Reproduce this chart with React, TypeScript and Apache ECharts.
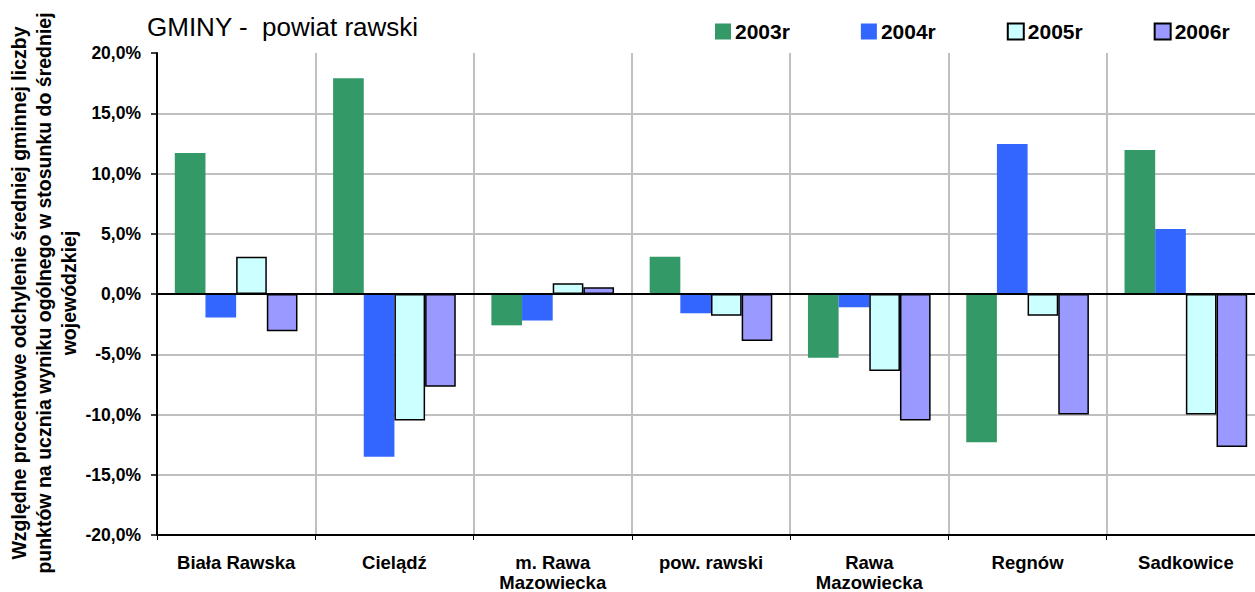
import React, { useEffect, useRef } from "react";
import * as echarts from "echarts";

const categories = [
  "Biała Rawska",
  "Cielądź",
  "m. Rawa\nMazowiecka",
  "pow. rawski",
  "Rawa\nMazowiecka",
  "Regnów",
  "Sadkowice",
];
const seriesNames = ["2003r", "2004r", "2005r", "2006r"];
const values2003 = [11.7, 17.9, -2.6, 3.1, -5.3, -12.3, 11.95];
const values2004 = [-1.95, -13.5, -2.2, -1.6, -1.1, 12.45, 5.4];
const values2005 = [3.1, -10.5, 0.9, -1.8, -6.4, -1.8, -10.0];
const values2006 = [-3.1, -7.7, 0.55, -3.9, -10.5, -10.0, -12.7];
const yTicks = { min: -20, max: 20, interval: 5 };
const yTitle =
  "Względne procentowe odchylenie średniej gminnej liczby\npunktów na ucznia wyniku ogólnego w stosunku do średniej\nwojewódzkiej";

const FONT = "'Liberation Sans', Arial, sans-serif";

export default function App() {
  const ref = useRef<HTMLDivElement>(null);
  useEffect(() => {
    if (!ref.current) return;
    const chart = echarts.init(ref.current, undefined, { renderer: "svg" });
    const colors = ["#339966", "#3366FF", "#CCFFFF", "#9999FF"];
    const data = [values2003, values2004, values2005, values2006];
    const bordered = [false, false, true, true];
    const series: any[] = data.map((vals, i) => ({
      name: seriesNames[i],
      type: "bar",
      data: vals,
      barGap: "0%",
      barCategoryGap: "22.5%",
      itemStyle: {
        color: colors[i],
        borderColor: bordered[i] ? "#000" : colors[i],
        borderWidth: bordered[i] ? 1.5 : 0,
      },
    }));
    series[0].markLine = {
      silent: true,
      symbol: "none",
      label: { show: false },
      lineStyle: { color: "#000", width: 2, type: "solid" },
      data: [{ yAxis: 0 }],
      z: 10,
    };
    const splitColors: string[] = [];
    for (let v = yTicks.min; v <= yTicks.max; v += yTicks.interval) {
      splitColors.push(v === yTicks.min || v === 0 || v === yTicks.max ? "rgba(0,0,0,0)" : "#c0c0c0");
    }
    chart.setOption({
      animation: false,
      textStyle: { fontFamily: FONT },
      title: {
        text: "GMINY -  powiat rawski",
        left: 147,
        top: 14,
        padding: 0,
        textStyle: { fontFamily: FONT, fontSize: 26, fontWeight: "normal", color: "#000" },
      },
      legend: {
        left: 715,
        top: 21,
        padding: 0,
        itemWidth: 16,
        itemHeight: 16,
        itemGap: 71,
        icon: "rect",
        textStyle: { fontFamily: FONT, fontSize: 21, fontWeight: "bold", color: "#000", padding: [0, 0, 0, -1] },
        data: seriesNames,
      },
      graphic: [
        {
          type: "text",
          x: 44,
          y: 293,
          rotation: Math.PI / 2,
          style: {
            text: yTitle,
            fontFamily: FONT,
            fontSize: 19.5,
            fontWeight: "bold",
            fill: "#000",
            lineHeight: 25,
            align: "center",
            verticalAlign: "middle",
          },
        },
      ],
      grid: { left: 157, top: 53, width: 1108, bottom: 57, containLabel: false, outerBoundsMode: "none" },
      xAxis: {
        type: "category",
        data: categories,
        axisLine: { onZero: false, lineStyle: { color: "#000", width: 2 } },
        axisTick: { show: true, length: 5, lineStyle: { color: "#000" } },
        splitLine: { show: true, lineStyle: { color: "#c0c0c0", width: 2 } },
        axisLabel: {
          interval: 0,
          margin: 17,
          fontFamily: FONT,
          fontSize: 18.5,
          fontWeight: "bold",
          color: "#000",
          lineHeight: 20,
        },
      },
      yAxis: {
        type: "value",
        min: yTicks.min,
        max: yTicks.max,
        interval: yTicks.interval,
        axisLine: { show: true, lineStyle: { color: "#000", width: 2 } },
        axisTick: { show: true, length: 6, lineStyle: { color: "#000", width: 1.5 } },
        splitLine: { show: true, lineStyle: { color: splitColors, width: 2 } },
        axisLabel: {
          margin: 16,
          fontFamily: FONT,
          fontSize: 17.5,
          fontWeight: "bold",
          color: "#000",
          formatter: (v: number) => v.toFixed(1).replace(".", ",") + "%",
        },
      },
      series,
    });
    return () => chart.dispose();
  }, []);
  return <div ref={ref} style={{ width: 1255, height: 592, position: "absolute", left: 0, top: 0, background: "#fff" }} />;
}
